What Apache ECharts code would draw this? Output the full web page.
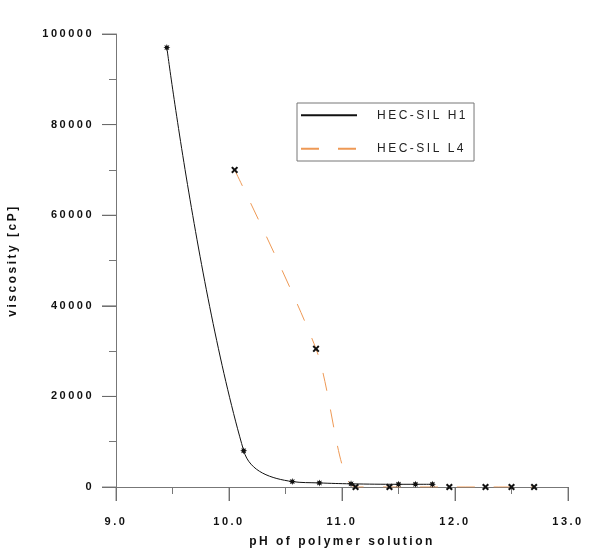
<!DOCTYPE html>
<html>
<head>
<meta charset="utf-8">
<script src="https://cdn.jsdelivr.net/npm/echarts@6/dist/echarts.min.js"></script>
<style>
html, body { margin: 0; padding: 0; background: #fff; }
#chart { width: 591px; height: 558px; }
</style>
</head>
<body>
<div id="chart"></div>
<script>
let seriesNames = ['HEC-SIL H1', 'HEC-SIL L4'];
let phH1 = [9.45, 10.13, 10.56, 10.8, 11.08, 11.5, 11.65, 11.8];
let viscH1 = [97000, 8000, 1200, 900, 700, 600, 600, 600];
let phL4 = [10.05, 10.77, 11.12, 11.42, 11.95, 12.27, 12.5, 12.7];
let viscL4 = [70000, 30500, 0, 0, 0, 0, 0, 0];
let xTickValues = [9, 10, 11, 12, 13];
let yTickValues = [0, 20000, 40000, 60000, 80000, 100000];
let xName = 'pH of polymer solution';
let yName = 'viscosity [cP]';

// the original uses widely spaced lettering everywhere
let spacing = '2.5px';
let proto = CanvasRenderingContext2D.prototype;
let origFill = proto.fillText;
let origMeasure = proto.measureText;
proto.fillText = function() { this.letterSpacing = spacing; return origFill.apply(this, arguments); };
proto.measureText = function() { this.letterSpacing = spacing; return origMeasure.apply(this, arguments); };

// small asterisk marker
function starPath(n, r1, r2) {
	let pts = [];
	for (let i = 0; i < n * 2; i++) {
		let a = Math.PI * i / n;
		let r = i % 2 ? r2 : r1;
		pts.push((10 + r * Math.sin(a)).toFixed(2) + ',' + (10 - r * Math.cos(a)).toFixed(2));
	}
	return 'path://M' + pts.join(' L') + ' Z';
}
let crossPath = 'path://M0,2 L2,0 L5,3 L8,0 L10,2 L7,5 L10,8 L8,10 L5,7 L2,10 L0,8 L3,5 Z';

let font = "'Liberation Sans', Arial, sans-serif";
let axisColor = '#777';

// ticks vanish in v6 when splitLine is off, so keep it on but invisible
let hiddenSplit = { show: true, lineStyle: { color: 'rgba(0,0,0,0)', width: 0 } };

// major ticks as thin rect symbols sitting on the axes
function tickSeries(data, size, offset) {
	return {
		type: 'scatter',
		data: data,
		symbol: 'rect',
		symbolSize: size,
		symbolOffset: offset,
		clip: false,
		silent: true,
		itemStyle: { color: '#666' },
		z: 1
	};
}

let myChart = echarts.init(document.getElementById('chart'));

let option = {
	animation: false,
	grid: {
		left: 116,
		right: 23,
		top: 34,
		bottom: 71,
		outerBoundsMode: 'none'
	},
	legend: {
		orient: 'vertical',
		left: 297,
		top: 103,
		padding: [5, 6, 5, 3],
		itemWidth: 56,
		itemHeight: 14,
		itemGap: 19,
		borderColor: axisColor,
		borderWidth: 1,
		borderRadius: 0,
		itemStyle: { color: 'transparent', borderWidth: 0 },
		textStyle: {
			fontFamily: font,
			fontSize: 12,
			color: '#222',
			padding: [0, 0, 0, 15]
		},
		data: seriesNames
	},
	xAxis: {
		type: 'value',
		min: 9,
		max: 13,
		interval: 1,
		axisLine: { show: true, onZero: false, lineStyle: { color: axisColor, width: 1 } },
		axisTick: { show: true, length: 14, lineStyle: { color: axisColor } },
		minorTick: { show: true, splitNumber: 2, length: 7, lineStyle: { color: axisColor } },
		splitLine: hiddenSplit,
		axisLabel: {
			formatter: v => v.toFixed(1),
			margin: 28,
			fontFamily: font,
			fontWeight: 'bold',
			fontSize: 11,
			color: '#111'
		},
		name: xName,
		nameLocation: 'middle',
		nameGap: 47,
		nameTextStyle: { fontFamily: font, fontWeight: 'bold', fontSize: 12, color: '#111' }
	},
	yAxis: {
		type: 'value',
		min: 0,
		max: 100000,
		interval: 20000,
		axisLine: { show: true, onZero: false, lineStyle: { color: axisColor, width: 1 } },
		axisTick: { show: true, length: 14, lineStyle: { color: axisColor } },
		minorTick: { show: true, splitNumber: 2, length: 7, lineStyle: { color: axisColor } },
		splitLine: hiddenSplit,
		axisLabel: {
			formatter: v => String(v),
			margin: 22,
			fontFamily: font,
			fontWeight: 'bold',
			fontSize: 11,
			color: '#111'
		},
		name: yName,
		nameLocation: 'middle',
		nameRotate: 90,
		nameGap: 96,
		nameTextStyle: { fontFamily: font, fontWeight: 'bold', fontSize: 12, color: '#111' }
	},
	series: [{
		name: seriesNames[0],
		type: 'line',
		data: phH1.map((x, i) => [x, viscH1[i]]),
		smooth: 0.4,
		symbol: starPath(8, 5, 2.6),
		symbolSize: 7,
		showAllSymbol: true,
		lineStyle: { color: '#111', width: 1 },
		itemStyle: { color: '#111' },
		z: 3
	}, {
		name: seriesNames[1],
		type: 'line',
		data: phL4.map((x, i) => [x, viscL4[i]]),
		smooth: 0.3,
		symbol: crossPath,
		symbolSize: 7,
		showAllSymbol: true,
		lineStyle: { color: '#EE9955', width: 1, type: [18, 19] },
		itemStyle: { color: '#111' },
		z: 2
	},
	tickSeries(xTickValues.map(v => [v, yTickValues[0]]), [1, 14], [0, 7]),
	tickSeries(yTickValues.map(v => [xTickValues[0], v]), [14, 1], [-7, 0])
	]
};
myChart.setOption(option);
</script>
</body>
</html>
